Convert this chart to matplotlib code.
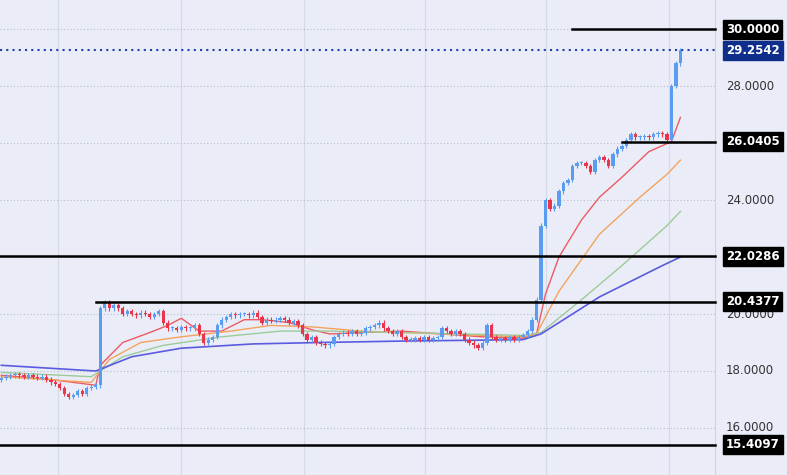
import matplotlib
matplotlib.use("Agg")
import matplotlib.pyplot as plt
import numpy as np

closes = [17.75,17.8,17.85,17.9,17.85,17.8,17.85,
          17.8,17.75,17.8,17.7,17.6,17.55,
          17.4,17.2,17.1,17.15,
          17.3,17.2,17.4,17.45,
          17.5,20.2,
          20.4,20.2,20.3,20.2,
          20.0,20.1,20.0,19.95,20.05,20.0,19.9,20.0,20.1,
          19.7,19.5,19.5,19.45,19.55,19.5,19.5,19.6,19.3,
          19.0,19.1,19.2,
          19.6,19.8,19.9,20.0,19.95,
          20.0,20.0,19.95,20.05,19.9,
          19.7,19.8,19.75,19.8,19.85,19.8,19.7,19.75,19.6,
          19.3,19.1,19.2,19.0,18.95,18.9,18.95,
          19.2,19.3,19.35,19.3,19.4,19.3,19.35,19.5,19.55,19.6,19.7,
          19.5,19.4,19.3,19.4,
          19.2,19.1,19.1,19.15,19.1,19.2,19.1,19.15,19.2,
          19.5,19.4,19.3,19.4,19.3,
          19.1,19.0,18.9,18.8,
          19.0,19.6,19.2,
          19.1,19.15,19.1,19.2,19.1,19.2,19.25,19.4,
          19.8,20.5,23.1,
          24.0,23.7,23.8,24.3,
          24.6,24.7,25.2,25.3,
          25.3,25.2,25.0,25.4,
          25.5,25.4,25.2,25.6,25.8,
          25.9,26.1,26.3,26.2,
          26.2,26.25,26.2,26.3,26.35,26.3,
          26.1,28.0,28.8,29.2542]
first_open = 17.7

ma_red_x = [0,11,21,22,27,33,37,40,44,49,54,58,64,69,73,80,89,98,107,116,119,121,124,129,133,138,144,149,151]
ma_red_y = [17.85,17.7,17.5,18.2,19.0,19.35,19.6,19.85,19.4,19.4,19.8,19.8,19.7,19.45,19.3,19.35,19.4,19.3,19.2,19.15,19.3,20.7,22.0,23.3,24.1,24.8,25.7,26.05,26.9]
ma_org_x = [0,20,24,31,40,51,60,69,80,98,116,119,124,133,142,148,151]
ma_org_y = [17.8,17.6,18.4,19.0,19.2,19.4,19.6,19.55,19.4,19.3,19.2,19.3,20.8,22.8,24.1,24.9,25.4]
ma_grn_x = [0,20,27,36,49,62,73,89,116,120,129,138,148,151]
ma_grn_y = [17.95,17.8,18.5,18.9,19.2,19.4,19.4,19.35,19.25,19.35,20.5,21.7,23.1,23.6]
ma_blu_x = [0,21,29,40,56,71,89,116,120,133,147,151]
ma_blu_y = [18.2,18.0,18.5,18.8,18.95,19.0,19.05,19.1,19.3,20.6,21.7,22.0]

levels = [30.0, 26.0405, 22.0286, 20.4377, 15.4097]
level_start = [127, 138, None, 21, None]
last_price = 29.2542
yticks = [16, 18, 20, 22, 24, 26, 28, 30]
tick_labels_shown = [16, 18, 20, 24, 28]

BG = "#EAEDF8"
UP = "#5A9CF0"
DN = "#E8354B"

fig = plt.figure(figsize=(7.87, 4.75), dpi=100)
fig.patch.set_facecolor(BG)
ax = fig.add_axes([0, 0, 0.908, 1])
ax.set_facecolor(BG)
xmin, xmax = -0.3, 158.6
ymin, ymax = 14.35, 31.02
ax.set_xlim(xmin, xmax)
ax.set_ylim(ymin, ymax)

for gx in [12.7, 40, 67.3, 94.2, 121, 148.4]:
    ax.axvline(gx, color="#D6DAE6", lw=0.8, zorder=0)
for gy in yticks:
    ax.axhline(gy, color="#B8BCC8", lw=0.8, ls=(0, (1, 2)), zorder=0)

opens = [first_open] + closes[:-1]
for i, (o, c) in enumerate(zip(opens, closes)):
    col = UP if c >= o else DN
    lo, hi = min(o, c), max(o, c)
    ax.vlines(i, lo - 0.08, hi + 0.08, color=col, lw=0.8, zorder=3)
    ax.bar(i, max(hi - lo, 0.03), bottom=lo, width=0.75, color=col, zorder=3, linewidth=0)

ax.plot(ma_red_x, ma_red_y, color="#EE5A62", lw=1, zorder=2)
ax.plot(ma_org_x, ma_org_y, color="#F5A35C", lw=1, zorder=2)
ax.plot(ma_grn_x, ma_grn_y, color="#9CCB98", lw=1, zorder=2)
ax.plot(ma_blu_x, ma_blu_y, color="#5B5BE0", lw=1.2, zorder=2)

for lv, st in zip(levels, level_start):
    x0 = xmin if st is None else st
    ax.plot([x0, xmax], [lv, lv], color="black", lw=1.8, zorder=4, clip_on=False)
ax.axhline(last_price, color="#1F3FA8", lw=1.5, ls=(0, (1, 2)), zorder=4)

for s in ax.spines.values():
    s.set_visible(False)
ax.spines["right"].set_visible(True)
ax.spines["right"].set_color("#D0D4E0")
ax.set_xticks([]); ax.set_yticks([])

for gy in tick_labels_shown:
    ax.text(1.016, (gy - ymin) / (ymax - ymin), f"{gy:.4f}", transform=ax.transAxes,
            ha="left", va="center", fontsize=8.5, color="#333333")
for lv in levels + [last_price]:
    fc = "#0F2E8C" if lv == last_price else "black"
    ax.text(1.016, (lv - ymin) / (ymax - ymin), f"{lv:.4f}", transform=ax.transAxes,
            ha="left", va="center", fontsize=8.5, color="white", fontweight="bold",
            bbox=dict(boxstyle="square,pad=0.25", fc=fc, ec=fc), zorder=6)

fig.savefig("out.png", dpi=100, facecolor=BG)
